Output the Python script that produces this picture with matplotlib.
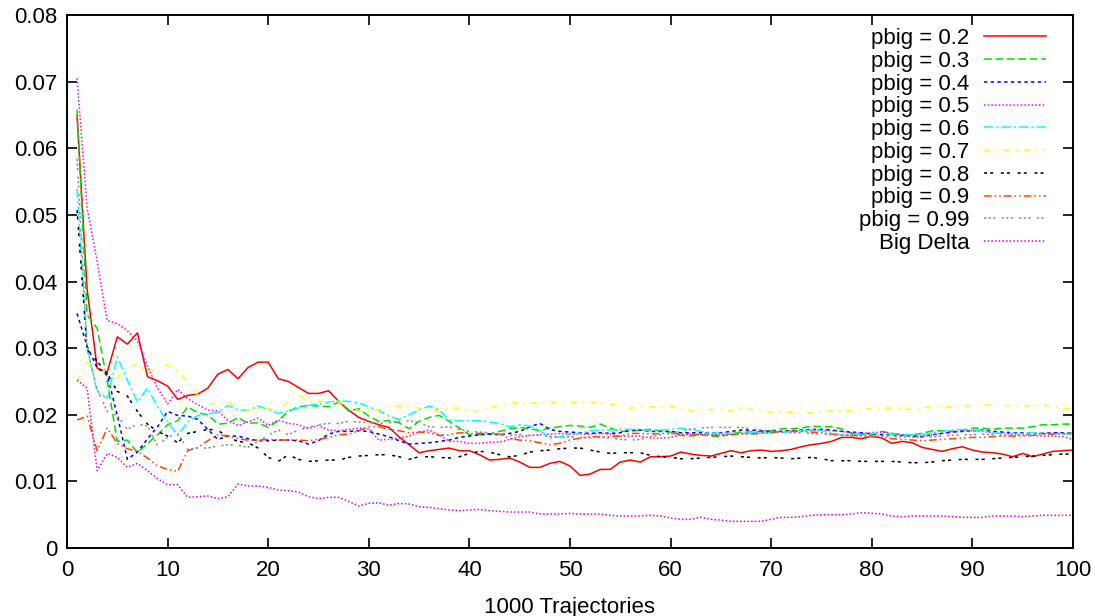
import numpy as np
import matplotlib
matplotlib.use("Agg")
import matplotlib.pyplot as plt
from matplotlib.ticker import FuncFormatter, MultipleLocator

plt.rcParams['font.family'] = ['Liberation Sans', 'DejaVu Sans']

trajectories = list(range(1, 101))

pbig_02 = [0.0649, 0.0388, 0.0270, 0.0264, 0.0317, 0.0306, 0.0323, 0.0257, 0.0251, 0.0243,
           0.0223, 0.0229, 0.0231, 0.0240, 0.0261, 0.0268, 0.0254, 0.0271, 0.0279, 0.0279,
           0.0254, 0.0250, 0.0241, 0.0232, 0.0232, 0.0236, 0.0220, 0.0207, 0.0196, 0.0190,
           0.0185, 0.0181, 0.0167, 0.0155, 0.0143, 0.0146, 0.0148, 0.0150, 0.0146, 0.0146,
           0.0140, 0.0132, 0.0133, 0.0135, 0.0129, 0.0121, 0.0121, 0.0127, 0.0130, 0.0123,
           0.0109, 0.0111, 0.0118, 0.0118, 0.0129, 0.0132, 0.0129, 0.0137, 0.0137, 0.0138,
           0.0144, 0.0141, 0.0139, 0.0138, 0.0142, 0.0146, 0.0143, 0.0146, 0.0147, 0.0145,
           0.0146, 0.0148, 0.0152, 0.0155, 0.0157, 0.0160, 0.0166, 0.0166, 0.0164, 0.0168,
           0.0165, 0.0157, 0.0160, 0.0158, 0.0151, 0.0148, 0.0145, 0.0149, 0.0152, 0.0147,
           0.0144, 0.0143, 0.0141, 0.0137, 0.0142, 0.0137, 0.0141, 0.0145, 0.0146, 0.0147]

pbig_03 = [0.0658, 0.0350, 0.0330, 0.0250, 0.0160, 0.0162, 0.0143, 0.0157, 0.0170, 0.0185,
           0.0191, 0.0212, 0.0203, 0.0200, 0.0186, 0.0187, 0.0196, 0.0187, 0.0188, 0.0181,
           0.0191, 0.0205, 0.0212, 0.0214, 0.0213, 0.0212, 0.0219, 0.0206, 0.0209, 0.0198,
           0.0190, 0.0191, 0.0188, 0.0179, 0.0190, 0.0196, 0.0199, 0.0190, 0.0180, 0.0170,
           0.0170, 0.0171, 0.0175, 0.0179, 0.0181, 0.0179, 0.0176, 0.0180, 0.0182, 0.0184,
           0.0183, 0.0181, 0.0186, 0.0180, 0.0175, 0.0175, 0.0177, 0.0178, 0.0176, 0.0174,
           0.0169, 0.0168, 0.0170, 0.0168, 0.0167, 0.0172, 0.0174, 0.0174, 0.0175, 0.0176,
           0.0179, 0.0179, 0.0180, 0.0183, 0.0182, 0.0182, 0.0179, 0.0172, 0.0171, 0.0170,
           0.0175, 0.0172, 0.0170, 0.0170, 0.0172, 0.0176, 0.0176, 0.0175, 0.0176, 0.0180,
           0.0180, 0.0178, 0.0180, 0.0180, 0.0180, 0.0182, 0.0185, 0.0185, 0.0186, 0.0186]

pbig_04 = [0.0352, 0.0303, 0.0270, 0.0260, 0.0199, 0.0133, 0.0144, 0.0164, 0.0182, 0.0205,
           0.0199, 0.0198, 0.0193, 0.0178, 0.0163, 0.0168, 0.0168, 0.0164, 0.0161, 0.0161,
           0.0162, 0.0162, 0.0161, 0.0156, 0.0161, 0.0171, 0.0175, 0.0175, 0.0176, 0.0175,
           0.0171, 0.0167, 0.0161, 0.0156, 0.0157, 0.0158, 0.0160, 0.0162, 0.0166, 0.0168,
           0.0170, 0.0171, 0.0170, 0.0172, 0.0175, 0.0182, 0.0187, 0.0178, 0.0175, 0.0174,
           0.0173, 0.0172, 0.0173, 0.0172, 0.0173, 0.0177, 0.0177, 0.0175, 0.0175, 0.0175,
           0.0173, 0.0173, 0.0173, 0.0173, 0.0173, 0.0175, 0.0177, 0.0177, 0.0176, 0.0175,
           0.0175, 0.0176, 0.0177, 0.0178, 0.0178, 0.0177, 0.0175, 0.0174, 0.0173, 0.0171,
           0.0170, 0.0170, 0.0169, 0.0168, 0.0167, 0.0170, 0.0172, 0.0174, 0.0175, 0.0176,
           0.0177, 0.0175, 0.0174, 0.0173, 0.0173, 0.0172, 0.0172, 0.0173, 0.0173, 0.0172]

pbig_05 = [0.0705, 0.0510, 0.0430, 0.0341, 0.0337, 0.0326, 0.0311, 0.0273, 0.0240, 0.0216,
           0.0238, 0.0224, 0.0215, 0.0207, 0.0206, 0.0191, 0.0184, 0.0189, 0.0195, 0.0184,
           0.0192, 0.0187, 0.0185, 0.0179, 0.0184, 0.0177, 0.0176, 0.0178, 0.0180, 0.0179,
           0.0162, 0.0163, 0.0165, 0.0168, 0.0174, 0.0177, 0.0170, 0.0160, 0.0160, 0.0157,
           0.0157, 0.0159, 0.0159, 0.0163, 0.0167, 0.0169, 0.0170, 0.0171, 0.0172, 0.0171,
           0.0171, 0.0171, 0.0172, 0.0171, 0.0168, 0.0168, 0.0168, 0.0165, 0.0165, 0.0166,
           0.0170, 0.0171, 0.0171, 0.0171, 0.0170, 0.0171, 0.0172, 0.0172, 0.0173, 0.0174,
           0.0175, 0.0176, 0.0176, 0.0177, 0.0177, 0.0176, 0.0175, 0.0173, 0.0172, 0.0173,
           0.0174, 0.0172, 0.0170, 0.0169, 0.0168, 0.0170, 0.0172, 0.0174, 0.0176, 0.0176,
           0.0175, 0.0173, 0.0172, 0.0171, 0.0170, 0.0169, 0.0168, 0.0168, 0.0167, 0.0163]

pbig_06 = [0.0539, 0.0300, 0.0234, 0.0225, 0.0287, 0.0252, 0.0219, 0.0240, 0.0212, 0.0190,
           0.0169, 0.0189, 0.0199, 0.0201, 0.0204, 0.0214, 0.0207, 0.0207, 0.0213, 0.0208,
           0.0202, 0.0206, 0.0210, 0.0214, 0.0216, 0.0219, 0.0221, 0.0220, 0.0218, 0.0212,
           0.0206, 0.0198, 0.0193, 0.0200, 0.0207, 0.0213, 0.0207, 0.0192, 0.0191, 0.0191,
           0.0191, 0.0189, 0.0187, 0.0182, 0.0185, 0.0183, 0.0177, 0.0165, 0.0167, 0.0171,
           0.0172, 0.0176, 0.0177, 0.0177, 0.0178, 0.0178, 0.0178, 0.0176, 0.0177, 0.0178,
           0.0180, 0.0178, 0.0175, 0.0173, 0.0172, 0.0172, 0.0172, 0.0173, 0.0173, 0.0173,
           0.0173, 0.0175, 0.0176, 0.0177, 0.0176, 0.0172, 0.0170, 0.0170, 0.0171, 0.0172,
           0.0172, 0.0171, 0.0170, 0.0170, 0.0170, 0.0173, 0.0175, 0.0177, 0.0178, 0.0177,
           0.0176, 0.0173, 0.0172, 0.0172, 0.0172, 0.0173, 0.0172, 0.0171, 0.0171, 0.0171]

pbig_07 = [0.0250, 0.0279, 0.0263, 0.0267, 0.0254, 0.0272, 0.0275, 0.0263, 0.0274, 0.0275,
           0.0266, 0.0248, 0.0229, 0.0217, 0.0216, 0.0220, 0.0208, 0.0207, 0.0209, 0.0209,
           0.0206, 0.0220, 0.0229, 0.0221, 0.0220, 0.0220, 0.0219, 0.0213, 0.0206, 0.0206,
           0.0207, 0.0213, 0.0213, 0.0212, 0.0210, 0.0206, 0.0206, 0.0210, 0.0210, 0.0205,
           0.0205, 0.0211, 0.0215, 0.0216, 0.0220, 0.0217, 0.0218, 0.0219, 0.0219, 0.0219,
           0.0219, 0.0219, 0.0219, 0.0216, 0.0215, 0.0210, 0.0211, 0.0212, 0.0213, 0.0213,
           0.0210, 0.0206, 0.0206, 0.0208, 0.0207, 0.0206, 0.0210, 0.0208, 0.0206, 0.0204,
           0.0204, 0.0204, 0.0202, 0.0203, 0.0204, 0.0206, 0.0207, 0.0206, 0.0207, 0.0210,
           0.0210, 0.0210, 0.0209, 0.0208, 0.0210, 0.0212, 0.0212, 0.0212, 0.0213, 0.0214,
           0.0215, 0.0214, 0.0214, 0.0214, 0.0213, 0.0214, 0.0215, 0.0212, 0.0210, 0.0209]

pbig_08 = [0.0507, 0.0298, 0.0280, 0.0262, 0.0235, 0.0228, 0.0205, 0.0186, 0.0175, 0.0168,
           0.0158, 0.0172, 0.0175, 0.0178, 0.0177, 0.0166, 0.0160, 0.0158, 0.0150, 0.0136,
           0.0130, 0.0140, 0.0133, 0.0130, 0.0131, 0.0132, 0.0132, 0.0136, 0.0138, 0.0139,
           0.0140, 0.0140, 0.0137, 0.0133, 0.0137, 0.0137, 0.0136, 0.0135, 0.0137, 0.0142,
           0.0145, 0.0144, 0.0140, 0.0137, 0.0139, 0.0144, 0.0146, 0.0147, 0.0149, 0.0150,
           0.0150, 0.0147, 0.0144, 0.0142, 0.0143, 0.0143, 0.0143, 0.0139, 0.0137, 0.0136,
           0.0134, 0.0134, 0.0135, 0.0136, 0.0137, 0.0138, 0.0137, 0.0136, 0.0135, 0.0136,
           0.0135, 0.0134, 0.0135, 0.0136, 0.0134, 0.0131, 0.0131, 0.0131, 0.0130, 0.0130,
           0.0130, 0.0130, 0.0129, 0.0128, 0.0128, 0.0129, 0.0131, 0.0132, 0.0133, 0.0133,
           0.0133, 0.0134, 0.0135, 0.0136, 0.0137, 0.0138, 0.0139, 0.0140, 0.0141, 0.0141]

pbig_09 = [0.0192, 0.0198, 0.0146, 0.0180, 0.0157, 0.0149, 0.0145, 0.0135, 0.0123, 0.0118,
           0.0115, 0.0146, 0.0151, 0.0161, 0.0170, 0.0168, 0.0164, 0.0162, 0.0162, 0.0163,
           0.0162, 0.0162, 0.0162, 0.0161, 0.0163, 0.0166, 0.0170, 0.0171, 0.0176, 0.0182,
           0.0182, 0.0178, 0.0176, 0.0173, 0.0174, 0.0173, 0.0169, 0.0170, 0.0173, 0.0172,
           0.0172, 0.0172, 0.0171, 0.0164, 0.0162, 0.0161, 0.0158, 0.0155, 0.0157, 0.0162,
           0.0165, 0.0167, 0.0167, 0.0167, 0.0168, 0.0172, 0.0172, 0.0171, 0.0172, 0.0172,
           0.0171, 0.0170, 0.0170, 0.0169, 0.0169, 0.0170, 0.0171, 0.0171, 0.0172, 0.0173,
           0.0175, 0.0175, 0.0175, 0.0174, 0.0173, 0.0171, 0.0169, 0.0169, 0.0168, 0.0167,
           0.0166, 0.0164, 0.0163, 0.0162, 0.0161, 0.0162, 0.0163, 0.0164, 0.0165, 0.0166,
           0.0166, 0.0167, 0.0168, 0.0168, 0.0168, 0.0169, 0.0171, 0.0171, 0.0172, 0.0172]

pbig_099 = [0.0584, 0.0300, 0.0238, 0.0205, 0.0199, 0.0178, 0.0186, 0.0183, 0.0154, 0.0166,
            0.0172, 0.0148, 0.0150, 0.0150, 0.0153, 0.0155, 0.0154, 0.0151, 0.0160, 0.0169,
            0.0177, 0.0170, 0.0177, 0.0181, 0.0185, 0.0187, 0.0187, 0.0190, 0.0189, 0.0188,
            0.0187, 0.0188, 0.0190, 0.0191, 0.0188, 0.0182, 0.0181, 0.0182, 0.0178, 0.0175,
            0.0174, 0.0173, 0.0170, 0.0169, 0.0170, 0.0169, 0.0169, 0.0167, 0.0166, 0.0167,
            0.0166, 0.0165, 0.0166, 0.0165, 0.0163, 0.0162, 0.0163, 0.0167, 0.0170, 0.0172,
            0.0175, 0.0178, 0.0180, 0.0181, 0.0181, 0.0181, 0.0181, 0.0179, 0.0177, 0.0175,
            0.0174, 0.0173, 0.0173, 0.0172, 0.0171, 0.0170, 0.0170, 0.0169, 0.0169, 0.0168,
            0.0168, 0.0167, 0.0167, 0.0166, 0.0166, 0.0167, 0.0168, 0.0169, 0.0170, 0.0170,
            0.0171, 0.0170, 0.0169, 0.0169, 0.0170, 0.0171, 0.0172, 0.0172, 0.0172, 0.0172]

big_delta = [0.0252, 0.0240, 0.0116, 0.0142, 0.0136, 0.0121, 0.0127, 0.0116, 0.0104, 0.0095,
             0.0095, 0.0076, 0.0077, 0.0078, 0.0074, 0.0077, 0.0096, 0.0093, 0.0093, 0.0091,
             0.0087, 0.0086, 0.0084, 0.0077, 0.0074, 0.0076, 0.0076, 0.0070, 0.0063, 0.0067,
             0.0068, 0.0064, 0.0067, 0.0066, 0.0062, 0.0061, 0.0059, 0.0057, 0.0056, 0.0057,
             0.0058, 0.0056, 0.0055, 0.0054, 0.0054, 0.0054, 0.0051, 0.0051, 0.0051, 0.0052,
             0.0051, 0.0051, 0.0051, 0.0049, 0.0048, 0.0048, 0.0048, 0.0049, 0.0048, 0.0045,
             0.0043, 0.0043, 0.0046, 0.0043, 0.0042, 0.0040, 0.0040, 0.0040, 0.0040, 0.0043,
             0.0046, 0.0046, 0.0047, 0.0049, 0.0050, 0.0050, 0.0050, 0.0051, 0.0053, 0.0052,
             0.0051, 0.0048, 0.0047, 0.0048, 0.0048, 0.0048, 0.0048, 0.0047, 0.0046, 0.0046,
             0.0046, 0.0048, 0.0048, 0.0048, 0.0047, 0.0048, 0.0049, 0.0049, 0.0049, 0.0049]

labels = ["pbig = 0.2", "pbig = 0.3", "pbig = 0.4", "pbig = 0.5", "pbig = 0.6",
          "pbig = 0.7", "pbig = 0.8", "pbig = 0.9", "pbig = 0.99", "Big Delta"]
series = [pbig_02, pbig_03, pbig_04, pbig_05, pbig_06,
          pbig_07, pbig_08, pbig_09, pbig_099, big_delta]

colors = ["#ff0000", "#00e000", "#0000ff", "#ff00ff", "#00ffff",
          "#ffff00", "#000000", "#ff4500", "#909090", "#e000e0"]
styles = ["-", (0, (5, 2.5)), (0, (2.2, 2.2)), (0, (1, 1.4)), (0, (6, 2, 1.5, 2)),
          (0, (4, 4, 1, 4)), (0, (2, 2, 2, 5)), (0, (5, 2, 1, 2, 1, 2)),
          (0, (1.5, 1.5, 1.5, 1.5, 1.5, 4)), (0, (1, 1.4))]

fig = plt.figure(figsize=(10.95, 6.16), dpi=100)
ax = fig.add_axes([67 / 1095, 1 - 548 / 616, (1073 - 67) / 1095, (548 - 15) / 616])

for ys, lab, c, ls in zip(series, labels, colors, styles):
    ax.plot(trajectories, ys, color=c, linestyle=ls, linewidth=1.1, label=lab)

ax.set_xlim(0, 100)
ax.set_ylim(0, 0.08)
ax.xaxis.set_major_locator(MultipleLocator(10))
ax.yaxis.set_major_locator(MultipleLocator(0.01))
ax.yaxis.set_major_formatter(FuncFormatter(lambda v, p: "%g" % round(v, 4)))
ax.tick_params(direction="in", length=7, width=1.2, top=True, right=True,
               labelsize=16, colors="black")
ax.tick_params(axis="y", pad=7)
ax.tick_params(axis="x", pad=9)
for sp in ax.spines.values():
    sp.set_linewidth(1.4)

ax.set_xlabel("1000 Trajectories", fontsize=16, labelpad=11)

leg = ax.legend(loc="upper right", frameon=False, markerfirst=False, fontsize=16,
                handlelength=2.8, handletextpad=0.65, labelspacing=0.08,
                borderpad=0.0, borderaxespad=0.0,
                bbox_to_anchor=((1046 - 67) / 1006, (548 - 28) / 533))

fig.savefig("out.png", dpi=100)
